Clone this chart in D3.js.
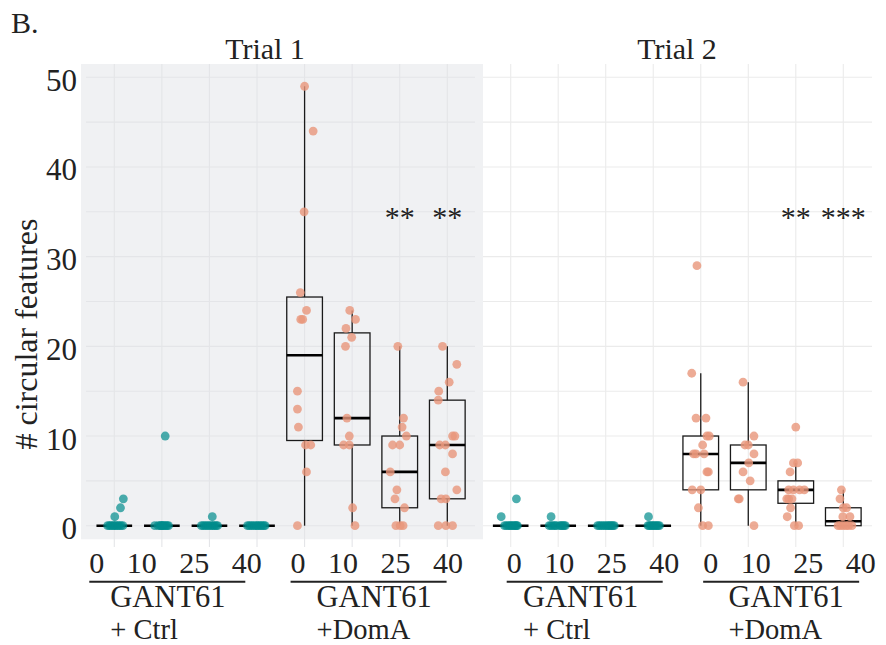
<!DOCTYPE html>
<html>
<head>
<meta charset="utf-8">
<script src="https://cdn.jsdelivr.net/npm/d3@7"></script>
<style>
  body { margin: 0; background: #fff; }
  svg { display: block; }
</style>
</head>
<body>
<svg id="chart" width="886" height="645"></svg>
<script>
// ---- data -------------------------------------------------------------
const trials = ["Trial 1", "Trial 2"];
const doses = ["0", "10", "25", "40"];
const treatments = ["Ctrl", "DomA"];
const treatmentLabels = [["GANT61", "+ Ctrl"], ["GANT61", "+DomA"]];
const yTickValues = [0, 10, 20, 30, 40, 50];

// Trial 1 counts of circular features, one list per dose
const t1Ctrl = [
  [3, 2, 1, 0, 0, 0, 0, 0, 0, 0, 0, 0, 0],
  [10, 0, 0, 0, 0, 0, 0, 0, 0, 0, 0],
  [1, 0, 0, 0, 0, 0, 0, 0, 0, 0, 0],
  [0, 0, 0, 0, 0, 0, 0, 0, 0, 0, 0]
];
const t1CtrlJitter = [
  [0.19, 0.13, 0.01, -0.14, -0.1, -0.07, -0.03, 0, 0.03, 0.07, 0.1, 0.14, 0.18],
  [0.07, -0.15, -0.08, -0.04, -0.01, 0.02, 0.05, 0.08, 0.11, 0.14, 0.0],
  [0.06, -0.17, -0.13, -0.09, -0.05, -0.01, 0.03, 0.07, 0.1, 0.14, 0.17],
  [-0.2, -0.16, -0.12, -0.08, -0.04, 0, 0.03, 0.07, 0.1, 0.14, 0.17]
];
const t1DomA = [
  [49, 44, 35, 26, 24, 23, 23, 15, 13, 11, 9, 9, 6, 0],
  [24, 23, 22, 21, 20, 12, 10, 9, 9, 2, 0],
  [20, 12, 11, 10, 9, 9, 6, 4, 3, 2, 0, 0, 0],
  [20, 18, 16, 15, 14, 10, 10, 9, 9, 8, 6, 4, 3, 3, 0, 0, 0]
];
const t1DomAJitter = [
  [0, 0.18, -0.01, -0.09, 0.04, -0.08, -0.04, -0.15, -0.15, -0.13, 0.02, 0.13, 0.04, -0.15],
  [-0.05, 0.07, -0.13, -0.01, -0.14, -0.11, -0.06, -0.18, -0.06, 0.01, 0.06],
  [-0.04, 0.08, 0.05, 0.14, -0.15, 0, -0.2, -0.06, -0.1, 0.1, -0.08, 0.01, 0.07],
  [-0.1, 0.2, 0.04, -0.18, -0.19, 0.11, 0.16, -0.16, -0.04, 0.11, -0.04, 0.2, -0.13, -0.03, -0.19, -0.03, 0.11]
];

// Trial 2 counts of circular features, one list per dose
const t2Ctrl = [
  [3, 1, 0, 0, 0, 0, 0, 0, 0, 0, 0, 0],
  [1, 0, 0, 0, 0, 0, 0, 0, 0, 0, 0],
  [0, 0, 0, 0, 0, 0, 0, 0, 0, 0, 0],
  [1, 0, 0, 0, 0, 0, 0, 0, 0, 0]
];
const t2CtrlJitter = [
  [0.12, -0.2, -0.13, -0.09, -0.05, -0.02, 0.01, 0.04, 0.07, 0.1, 0.12, 0.14],
  [-0.15, -0.19, -0.15, -0.11, -0.07, -0.04, 0.03, 0.06, 0.09, 0.12, 0.15],
  [-0.17, -0.13, -0.09, -0.05, -0.01, 0.03, 0.06, 0.09, 0.12, 0.15, 0.18],
  [-0.1, -0.11, -0.08, -0.05, -0.02, 0.01, 0.04, 0.07, 0.1, 0.13]
];
const t2DomA = [
  [29, 17, 12, 12, 10, 10, 9, 8, 8, 8, 6, 6, 4, 4, 2, 0, 0],
  [16, 10, 9, 9, 8, 7, 6, 5, 3, 3, 0],
  [11, 7, 7, 6, 4, 4, 4, 4, 3, 3, 3, 2, 1, 0, 0],
  [4, 3, 2, 2, 1, 1, 0, 0, 0, 0, 0, 0]
];
const t2DomAJitter = [
  [-0.08, -0.19, -0.1, 0.11, 0.13, 0.18, 0.04, -0.15, -0.1, 0.07, 0.13, 0.16, -0.18, 0, -0.05, 0.04, 0.16],
  [-0.11, 0.12, -0.07, 0, 0.12, 0.01, -0.11, 0.04, -0.21, -0.19, 0.12],
  [0, -0.05, 0.04, -0.12, -0.15, -0.05, 0.08, 0.18, -0.19, -0.15, -0.08, -0.11, -0.18, -0.03, 0.06],
  [-0.04, -0.07, 0, 0.07, -0.01, 0.14, -0.11, -0.06, 0, 0.06, 0.11, 0.18]
];

const trialData = [
  { Ctrl: t1Ctrl, DomA: t1DomA, CtrlJ: t1CtrlJitter, DomAJ: t1DomAJitter },
  { Ctrl: t2Ctrl, DomA: t2DomA, CtrlJ: t2CtrlJitter, DomAJ: t2DomAJitter }
];

// significance marks vs. the 0 dose
const sigMarks = [
  { trial: 0, treatment: "DomA", dose: "25", label: "**" },
  { trial: 0, treatment: "DomA", dose: "40", label: "**" },
  { trial: 1, treatment: "DomA", dose: "25", label: "**" },
  { trial: 1, treatment: "DomA", dose: "40", label: "***" }
];
const sigLevel = 35;

// ---- layout -----------------------------------------------------------
const svg = d3.select("#chart");
const serif = '"Liberation Serif"';
const ink = "#222";

function label(sel) {
  return sel.append("text").style("font-family", serif).style("fill", ink);
}

const y = d3.scaleLinear().domain([0, 50]).range([525.7, 77.3]);

const panels = [
  { left: 81, right: 483, top: 64, bottom: 539.3, bg: "#f0f1f3", grid: "#e4e5e8",
    gridX0: 86, gridX1: 475, first: 114.3, last: 447.3, titleX: 265,
    numStart: [-25, -14], blockStart: [-4, 12] },
  { left: 483, right: 872, top: 64, bottom: 539.3, bg: "#ffffff", grid: "#ebebeb",
    gridX0: 483, gridX1: 872, first: 510.7, last: 843.3, titleX: 677,
    numStart: [-4, 2.4], blockStart: [12.3, 27.7] }
];

const categories = [];
treatments.forEach(t => doses.forEach(d => categories.push(t + "-" + d)));

const teal = "#008b8b";
const salmon = "#e9967a";

label(svg)
  .attr("x", 11).attr("y", 33)
  .style("font-size", "30px")
  .text("B.");

panels.forEach((p, pi) => {
  const x = d3.scalePoint().domain(categories).range([p.first, p.last]);
  const step = x.step();
  const boxW = step * 0.75;
  const g = svg.append("g");

  // background + grid
  g.append("rect")
    .attr("x", p.left).attr("y", p.top)
    .attr("width", p.right - p.left).attr("height", p.bottom - p.top)
    .attr("fill", p.bg);

  g.append("g").selectAll("line").data(y.ticks(10)).join("line")
    .attr("x1", p.gridX0).attr("x2", p.gridX1)
    .attr("y1", d => y(d)).attr("y2", d => y(d))
    .attr("stroke", p.grid).attr("stroke-width", 1.1);

  g.append("g").selectAll("line").data(categories).join("line")
    .attr("x1", d => x(d)).attr("x2", d => x(d))
    .attr("y1", p.top).attr("y2", 547)
    .attr("stroke", p.grid).attr("stroke-width", 1.1);

  // panel title
  label(svg)
    .attr("x", p.titleX).attr("y", 59)
    .attr("text-anchor", "middle")
    .style("font-size", "30px")
    .text(trials[pi]);

  // boxes and points
  const td = trialData[pi];
  treatments.forEach(t => {
    const sets = td[t];
    const jit = td[t + "J"];
    const color = t === "Ctrl" ? teal : salmon;
    const alpha = t === "Ctrl" ? 0.7 : 0.8;

    sets.forEach((vals, di) => {
      const cx = x(t + "-" + doses[di]);
      const s = vals.slice().sort(d3.ascending);
      const q1 = d3.quantile(s, 0.25), med = d3.quantile(s, 0.5), q3 = d3.quantile(s, 0.75);
      const iqr = q3 - q1;
      const lo = d3.min(s.filter(v => v >= q1 - 1.5 * iqr));
      const hi = d3.max(s.filter(v => v <= q3 + 1.5 * iqr));

      const bg = g.append("g");
      bg.append("line")
        .attr("x1", cx).attr("x2", cx).attr("y1", y(q3)).attr("y2", y(hi))
        .attr("stroke", "#1a1a1a").attr("stroke-width", 1.3);
      bg.append("line")
        .attr("x1", cx).attr("x2", cx).attr("y1", y(q1)).attr("y2", y(lo))
        .attr("stroke", "#1a1a1a").attr("stroke-width", 1.3);
      bg.append("rect")
        .attr("x", cx - boxW / 2).attr("width", boxW)
        .attr("y", y(q3)).attr("height", Math.max(0, y(q1) - y(q3)))
        .attr("fill", "none").attr("stroke", "#1a1a1a").attr("stroke-width", 1.3);
      bg.append("line")
        .attr("x1", cx - boxW / 2).attr("x2", cx + boxW / 2)
        .attr("y1", y(med)).attr("y2", y(med))
        .attr("stroke", "#000").attr("stroke-width", 2.6);
    });

    sets.forEach((vals, di) => {
      const cx = x(t + "-" + doses[di]);
      g.append("g").selectAll("circle")
        .data(vals.map((v, i) => ({ v, j: jit[di][i] })))
        .join("circle")
        .attr("cx", d => cx + d.j * step)
        .attr("cy", d => y(d.v))
        .attr("r", 4.4)
        .attr("fill", color)
        .attr("fill-opacity", alpha);
    });
  });

  // significance marks
  sigMarks.filter(m => m.trial === pi).forEach(m => {
    label(svg)
      .attr("x", x(m.treatment + "-" + m.dose))
      .attr("y", y(sigLevel) + 15)
      .attr("text-anchor", "middle")
      .style("font-size", "30px")
      .text(m.label);
  });

  // x-axis group labels: dose row, rule, two-line treatment name
  treatments.forEach((t, ti) => {
    const x0 = x(t + "-" + doses[0]);
    const ns = x0 + p.numStart[ti];
    label(svg)
      .attr("x", ns).attr("y", 573)
      .style("font-size", "30px")
      .style("white-space", "pre")
      .text(doses.join("   "));
    svg.append("line")
      .attr("x1", ns).attr("x2", ns + 156)
      .attr("y1", 581.7).attr("y2", 581.7)
      .attr("stroke", ink).attr("stroke-width", 2);
    const bs = x0 + p.blockStart[ti];
    label(svg)
      .attr("x", bs).attr("y", 606.5)
      .style("font-size", "30.5px")
      .text(treatmentLabels[ti][0]);
    label(svg)
      .attr("x", bs).attr("y", 638.6)
      .style("font-size", "28.5px")
      .style("white-space", "pre")
      .text(treatmentLabels[ti][1]);
  });
});

// y axis
svg.append("g").selectAll("text").data(yTickValues).join("text")
  .style("font-family", serif).style("fill", ink)
  .attr("x", 77).attr("y", d => y(d) + 13.5)
  .attr("text-anchor", "end")
  .style("font-size", "31px")
  .text(d => d);

label(svg)
  .attr("transform", "translate(37,334) rotate(-90)")
  .attr("text-anchor", "middle")
  .style("font-size", "32px")
  .text("# circular features");
</script>
</body>
</html>
